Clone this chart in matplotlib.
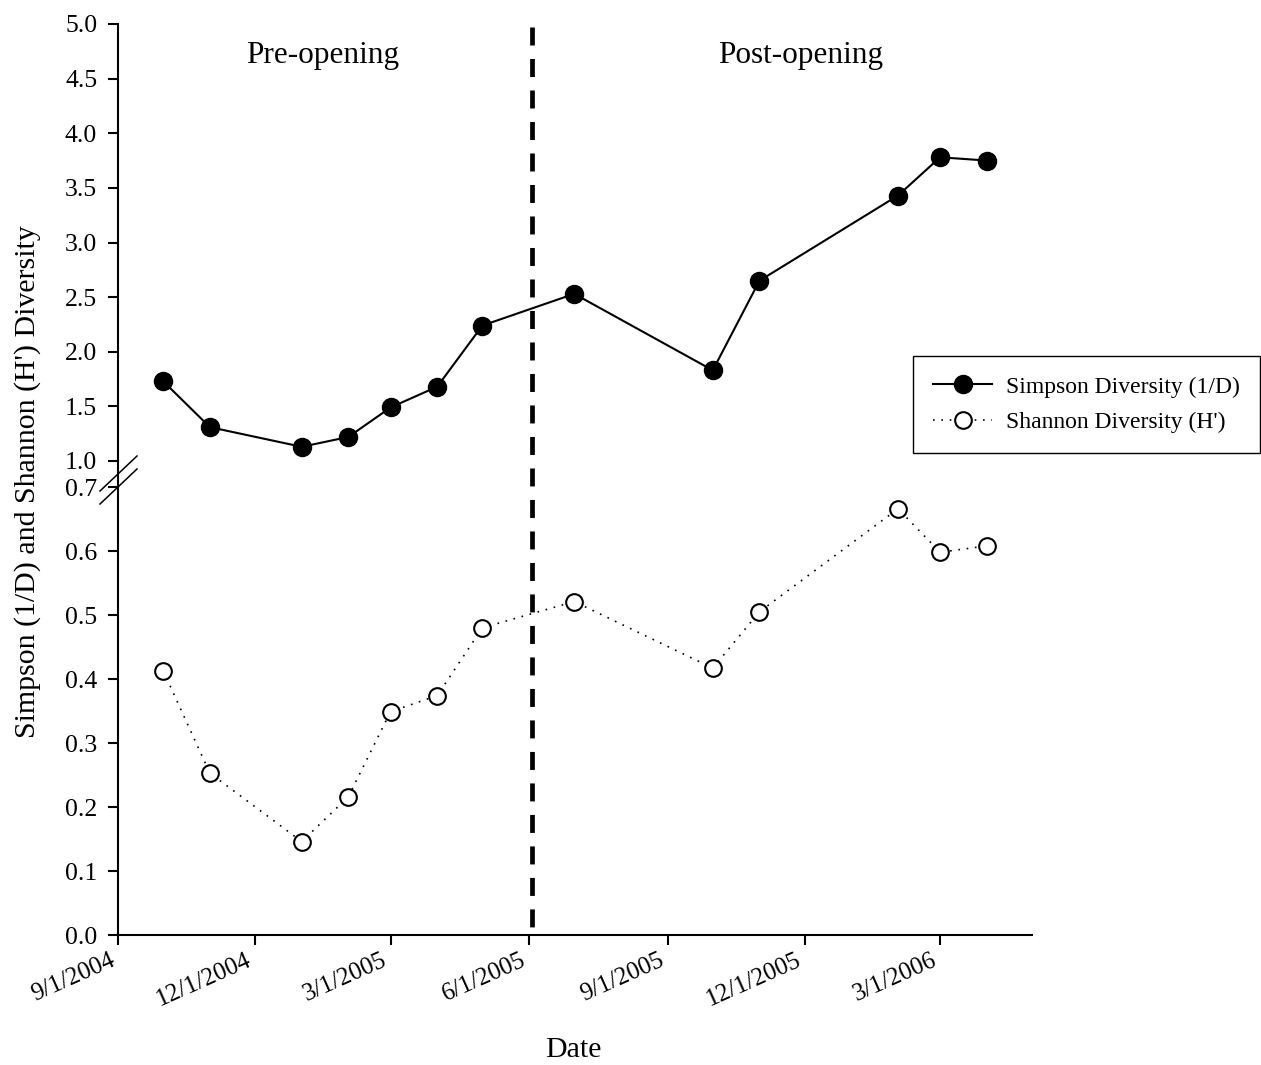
import datetime as dt
import matplotlib
matplotlib.use("Agg")
from matplotlib import pyplot as plt
import matplotlib.dates as mdates
from matplotlib.lines import Line2D
from matplotlib.ticker import FormatStrFormatter, FuncFormatter
from matplotlib.transforms import blended_transform_factory

plt.rcParams['font.family'] = ['Liberation Serif', 'DejaVu Serif']

# sampling dates (month/day/year)
dates = ["10/1/2004", "11/1/2004", "1/1/2005", "2/1/2005", "3/1/2005", "4/1/2005",
         "5/1/2005", "7/1/2005", "10/1/2005", "11/1/2005", "2/1/2006", "3/1/2006",
         "4/1/2006"]
simpson = [1.73, 1.31, 1.13, 1.22, 1.49, 1.68, 2.24, 2.53, 1.83, 2.65, 3.43, 3.78, 3.75]
shannon = [0.413, 0.253, 0.146, 0.216, 0.349, 0.374, 0.480, 0.521, 0.417, 0.505,
           0.666, 0.598, 0.608]
opening = "6/3/2005"
x_start = "9/1/2004"
x_end = "5/1/2006"
top_ticks = [1.0, 1.5, 2.0, 2.5, 3.0, 3.5, 4.0, 4.5, 5.0]
bot_ticks = [0.0, 0.1, 0.2, 0.3, 0.4, 0.5, 0.6, 0.7]


def to_date(s):
    return dt.datetime.strptime(s, "%m/%d/%Y")


x = [to_date(d) for d in dates]

W, H = 1261, 1065
fig = plt.figure(figsize=(W / 100, H / 100), dpi=100)


def px(xp, yp):
    return xp / W, 1 - yp / H


left = 118 / W
width = (1032 - 118) / W
ax_top = fig.add_axes([left, 1 - 461 / H, width, (461 - 24) / H])
ax_bot = fig.add_axes([left, 1 - 935 / H, width, (935 - 487) / H])

for ax in (ax_top, ax_bot):
    ax.set_xlim(to_date(x_start), to_date(x_end))
    ax.spines['top'].set_visible(False)
    ax.spines['right'].set_visible(False)
    for s in ax.spines.values():
        s.set_linewidth(1.5)
    ax.tick_params(axis='y', direction='out', length=7, width=1.5, labelsize=18.5, pad=8)
    ax.yaxis.set_major_formatter(FormatStrFormatter('%.1f'))
    ax.patch.set_visible(False)

ax_top.spines['bottom'].set_visible(False)
ax_top.set_xticks([])
ax_top.set_ylim(1.0, 5.0)
ax_top.set_yticks(top_ticks)

ax_bot.set_ylim(0.0, 0.7)
ax_bot.set_yticks(bot_ticks)
ax_bot.xaxis.set_major_locator(mdates.MonthLocator(bymonth=[3, 6, 9, 12], bymonthday=1))
ax_bot.xaxis.set_major_formatter(FuncFormatter(
    lambda v, pos: "{0.month}/{0.day}/{0.year}".format(mdates.num2date(v))))
ax_bot.tick_params(axis='x', direction='out', length=7, width=1.5, labelsize=18, pad=3)
for lab in ax_bot.get_xticklabels():
    lab.set_rotation(24)
    lab.set_ha('right')

l1, = ax_top.plot(x, simpson, '-', color='black', lw=1.5, marker='o', ms=13,
                  mfc='black', mec='black', clip_on=False)
l2, = ax_bot.plot(x, shannon, color='black', lw=1.2, dashes=(1, 4), marker='o', ms=12,
                  mfc='white', mec='black', mew=1.5, clip_on=False)

# opening date: dashed line across both panels
tr = blended_transform_factory(ax_bot.transData, fig.transFigure)
xo = mdates.date2num(to_date(opening))
fig.add_artist(Line2D([xo, xo], [1 - 27 / H, 1 - 927 / H], transform=tr, color='black',
                      lw=3.4, dashes=(3.81, 2.86)))

# axis break
fig.add_artist(Line2D(*zip(px(118, 461), px(118, 487)), color='black', lw=1.5))
fig.add_artist(Line2D(*zip(px(100, 491), px(137, 456)), color='black', lw=1.1))
fig.add_artist(Line2D(*zip(px(100, 504), px(137, 469)), color='black', lw=1.1))

ax_top.text(0.2243, 0.911, "Pre-opening", transform=ax_top.transAxes, ha='center',
            va='baseline', fontsize=22.5)
ax_top.text(0.7473, 0.911, "Post-opening", transform=ax_top.transAxes, ha='center',
            va='baseline', fontsize=22.5)

fig.text(28 / W, 1 - 482 / H, "Simpson (1/D) and Shannon (H') Diversity", rotation=90,
         ha='center', va='center', fontsize=21.5)
fig.text(573 / W, 1 - 1050 / H, "Date", ha='center', va='center', fontsize=21.5)

leg = fig.legend([l1, l2], ["Simpson Diversity (1/D)", "Shannon Diversity (H')"],
                 loc='upper left', bbox_to_anchor=px(913, 356), fontsize=17,
                 handlelength=2.5, handletextpad=0.6, borderpad=0.85, labelspacing=0.6,
                 borderaxespad=0, fancybox=False, framealpha=1, edgecolor='black')
leg.get_frame().set_linewidth(1.0)

plt.savefig('out.png', dpi=100)
